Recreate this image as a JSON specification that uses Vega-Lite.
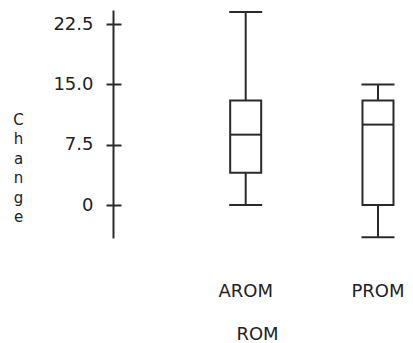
{
  "$schema": "https://vega.github.io/schema/vega-lite/v6.json",
  "autosize": "none",
  "padding": {"left": 113, "top": 10, "right": 12, "bottom": 105},
  "width": 288,
  "height": 228,
  "background": "white",
  "config": {
    "view": {"stroke": null},
    "font": "DejaVu Sans",
    "axis": {
      "labelFont": "DejaVu Sans",
      "titleFont": "DejaVu Sans",
      "labelFontSize": 18,
      "titleFontSize": 18,
      "titleFontWeight": "normal",
      "labelColor": "#222222",
      "titleColor": "#222222"
    }
  },
  "data": {
    "values": [
      {"ROM": "AROM", "lower": 0, "q1": 4, "median": 8.75, "q3": 13, "upper": 24},
      {"ROM": "PROM", "lower": -4, "q1": 0, "median": 10, "q3": 13, "upper": 15}
    ]
  },
  "encoding": {
    "x": {
      "field": "ROM",
      "type": "nominal",
      "scale": {"paddingInner": 0.652, "paddingOuter": 0.4145, "align": 1},
      "axis": {
        "title": "ROM",
        "labelAngle": 0,
        "domain": false,
        "ticks": false,
        "tickSize": 0,
        "labelPadding": 44,
        "labelBaseline": "top",
        "titlePadding": 25
      }
    }
  },
  "layer": [
    {
      "mark": {"type": "rule", "color": "#2a2a2a", "strokeWidth": 2},
      "encoding": {
        "y": {
          "field": "lower",
          "type": "quantitative",
          "scale": {"domain": [-4.1, 24.25], "nice": false, "zero": false},
          "axis": {
            "title": ["C", "h", "a", "n", "g", "e"],
            "titleFontSize": 15,
            "titleAngle": 0,
            "titleAlign": "center",
            "titleBaseline": "top",
            "titleX": -95,
            "titleY": 102,
            "titleLineHeight": 19.5,
            "values": [0, 7.5, 15, 22.5],
            "labelExpr": "datum.value == 0 ? '0' : format(datum.value, '.1f')",
            "labelPadding": 13,
            "domain": true,
            "domainColor": "#2a2a2a",
            "domainWidth": 2,
            "ticks": true,
            "tickSize": 7,
            "tickWidth": 2,
            "tickColor": "#2a2a2a",
            "grid": true,
            "gridColor": "#2a2a2a",
            "gridWidth": 2,
            "gridOpacity": 1,
            "gridDash": [8, 1000]
          }
        },
        "y2": {"field": "q1"}
      }
    },
    {
      "mark": {"type": "rule", "color": "#2a2a2a", "strokeWidth": 2},
      "encoding": {
        "y": {"field": "q3", "type": "quantitative"},
        "y2": {"field": "upper"}
      }
    },
    {
      "mark": {"type": "bar", "fill": "white", "stroke": "#2a2a2a", "strokeWidth": 2, "size": 31},
      "encoding": {
        "y": {"field": "q1", "type": "quantitative"},
        "y2": {"field": "q3"}
      }
    },
    {
      "mark": {"type": "tick", "color": "#2a2a2a", "thickness": 2, "size": 31, "opacity": 1},
      "encoding": {
        "y": {"field": "median", "type": "quantitative"}
      }
    },
    {
      "mark": {"type": "tick", "color": "#2a2a2a", "thickness": 2, "size": 33, "opacity": 1},
      "encoding": {
        "y": {"field": "lower", "type": "quantitative"}
      }
    },
    {
      "mark": {"type": "tick", "color": "#2a2a2a", "thickness": 2, "size": 33, "opacity": 1},
      "encoding": {
        "y": {"field": "upper", "type": "quantitative"}
      }
    }
  ]
}
